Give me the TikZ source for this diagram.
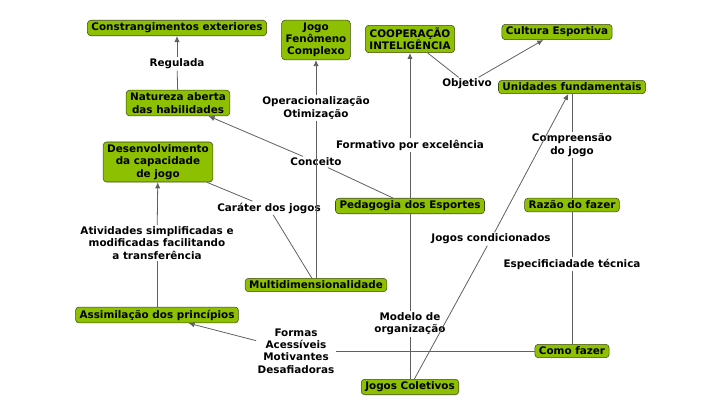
\documentclass[tikz,border=0pt]{standalone}
\usepackage{fontspec}
\setmainfont{DejaVu Sans}
\usetikzlibrary{arrows.meta,positioning}
\definecolor{cmapgreen}{HTML}{8CC000}
\definecolor{cmapedge}{HTML}{3E4A14}
\definecolor{linkgray}{HTML}{606060}

\begin{document}
\begin{tikzpicture}[
  x=0.75pt, y=-0.75pt,
  box/.style={draw=cmapedge, fill=cmapgreen, rounded corners=2.5pt, align=center,
    inner xsep=3pt, inner ysep=2pt, font=\fontsize{7.8}{9.2}\selectfont\bfseries},
  lbl/.style={fill=white, align=center, inner sep=1pt,
    font=\fontsize{7.8}{9.2}\selectfont\bfseries},
  link/.style={draw=linkgray, line width=0.6pt},
  arr/.style={link, -{Latex[length=4.5pt, width=4pt]}}
]
\useasboundingbox (0,0) rectangle (724,411);

\node[box] (constr) at (177,28) {Constrangimentos exteriores};
\node[box] (jogo) at (316,40) {Jogo\\Fenômeno\\Complexo};
\node[box] (coop) at (410,39) {COOPERAÇÃO\\INTELIGÊNCIA};
\node[box] (cultura) at (557,32) {Cultura Esportiva};
\node[box] (unidades) at (572,87) {Unidades fundamentais};
\node[box] (natureza) at (178,103) {Natureza aberta\\das habilidades};
\node[box] (desenv) at (158,162) {Desenvolvimento\\da capacidade\\de jogo};
\node[box] (pedag) at (410,206) {Pedagogia dos Esportes};
\node[box] (razao) at (572,205) {Razão do fazer};
\node[box] (multi) at (316,285) {Multidimensionalidade};
\node[box] (assim) at (157,315) {Assimilação dos princípios};
\node[box] (como) at (572,351) {Como fazer};
\node[box] (coletivos) at (410,387) {Jogos Coletivos};

% linking phrases
\node[lbl] (regulada) at (177,64) {Regulada};
\node[lbl] (operac) at (316,108) {Operacionalização\\Otimização};
\node[lbl] (objetivo) at (467,84) {Objetivo};
\node[lbl] (formativo) at (410,145) {Formativo por excelência};
\node[lbl] (conceito) at (316,162) {Conceito};
\node[lbl] (compr) at (572,145) {Compreensão\\do jogo};
\node[lbl] (carater) at (269,208) {Caráter dos jogos};
\node[lbl] (ativ) at (157,243) {Atividades simplificadas e\\modificadas facilitando\\a transferência};
\node[lbl] (condic) at (491,239) {Jogos condicionados};
\node[lbl] (especif) at (572,264) {Especificiadade técnica};
\node[lbl] (modelo) at (410,324) {Modelo de\\organização};
\node[lbl] (formas) at (296,351) {Formas\\Acessíveis\\Motivantes\\Desafiadoras};

\draw[link] (natureza) -- (regulada);
\draw[arr] (regulada) -- (constr);
\draw[link] (multi) -- (operac);
\draw[arr] (operac) -- (jogo);
\draw[link] (pedag) -- (conceito);
\draw[arr] (conceito) -- (natureza);
\draw[link] (pedag) -- (formativo);
\draw[arr] (formativo) -- (coop);
\draw[link] (coop) -- (objetivo);
\draw[arr] (objetivo) -- (cultura);
\draw[link] (razao) -- (compr);
\draw[link] (compr) -- (unidades);
\draw[link] (coletivos) -- (condic);
\draw[arr] (condic) -- (unidades);
\draw[link] (coletivos) -- (modelo);
\draw[link] (modelo) -- (pedag);
\draw[link] (como) -- (especif);
\draw[link] (especif) -- (razao);
\draw[link] (como) -- (formas);
\draw[arr] (formas) -- (assim);
\draw[link] (multi) -- (carater);
\draw[link] (carater) -- (desenv);
\draw[link] (assim) -- (ativ);
\draw[arr] (ativ) -- (desenv);

\end{tikzpicture}
\end{document}
